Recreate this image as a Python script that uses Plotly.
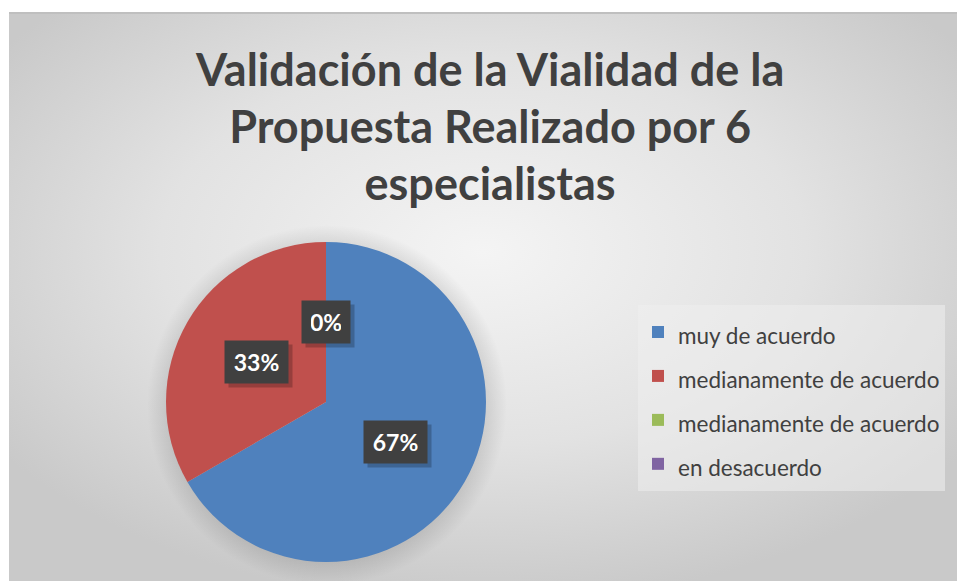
import base64
import math
import plotly.graph_objects as go

# Survey answers from the six specialists
categories = ["muy de acuerdo", "medianamente de acuerdo", "medianamente de acuerdo", "en desacuerdo"]
counts = [4, 2, 0, 0]
colors = ["#4F81BD", "#C0504D", "#9BBB59", "#8064A2"]
title_lines = ["Validación de la Vialidad de la", "Propuesta Realizado por 6", "especialistas"]

W, H = 957, 583
FONT = "Lato"

# pie geometry (pixels)
cx, cy, r = 326, 402, 160
dom_x = [(cx - r) / W, (cx + r) / W]
dom_y = [1 - (cy + r) / H, 1 - (cy - r) / H]

# chart-area radial gradient background with a soft halo under the pie
area = dict(x0=9, y0=13, x1=957, y1=581)
svg = (
    '<svg xmlns="http://www.w3.org/2000/svg" width="948" height="568" viewBox="0 0 948 568" preserveAspectRatio="none">'
    '<defs><radialGradient id="g" cx="50%" cy="42%" r="62%">'
    '<stop offset="0" stop-color="#f4f4f4"/><stop offset="0.55" stop-color="#e2e2e2"/>'
    '<stop offset="1" stop-color="#c9c9c9"/></radialGradient>'
    '<radialGradient id="s" cx="50%" cy="50%" r="50%">'
    '<stop offset="0.86" stop-color="#000" stop-opacity="0.12"/>'
    '<stop offset="1" stop-color="#000" stop-opacity="0"/></radialGradient></defs>'
    '<rect width="948" height="568" fill="url(#g)"/>'
    f'<circle cx="{cx - area["x0"] + 1}" cy="{cy - area["y0"] + 3}" r="{r + 20}" fill="url(#s)"/>'
    '</svg>'
)
bg_src = "data:image/svg+xml;base64," + base64.b64encode(svg.encode()).decode()

# legend: the big base font sets the row pitch, the span sets the visible size;
# the style suffix keeps the two identical category names as separate entries
legend_labels = [
    f"<span style='font-size:22.5px;z-index:{i}'>{c}</span>" for i, c in enumerate(categories)
]

fig = go.Figure(
    go.Pie(
        labels=legend_labels,
        values=counts,
        marker=dict(colors=colors, line=dict(width=0)),
        sort=False,
        direction="clockwise",
        rotation=0,
        textinfo="none",
        hoverinfo="label+percent",
        domain=dict(x=dom_x, y=dom_y),
    )
)

# data labels at half radius on each slice's mid angle, each on a dark box
# with a soft drop shadow box behind it
total = sum(counts)
annotations = []
cum = 0
for i, v in enumerate(counts[:3]):
    mid = (cum + v / 2) / total * 2 * math.pi
    cum += v
    lx = cx + 0.5 * r * math.sin(mid)
    ly = cy - 0.5 * r * math.cos(mid)
    pct = f"{round(100 * v / total)}%"
    box_w = 15 * len(pct)
    common = dict(
        x=lx / W, y=1 - ly / H, xref="paper", yref="paper",
        xanchor="center", yanchor="middle",
        showarrow=False, width=box_w, height=24, borderpad=9,
    )
    annotations.append(dict(common, text="&nbsp;", bgcolor="rgba(0,0,0,0.22)",
                            font=dict(family=FONT, size=23, color="rgba(0,0,0,0)"),
                            xshift=4, yshift=-4))
    annotations.append(dict(common, text=f"<b>{pct}</b>", bgcolor="#404040",
                            font=dict(family=FONT, size=23, color="#ffffff")))

title_html = "<br>".join(f"<span style='font-size:45px'><b>{t}</b></span>" for t in title_lines)
annotations.append(dict(
    text=title_html, x=489 / W, y=1 - 40 / H, xref="paper", yref="paper",
    xanchor="center", yanchor="top", showarrow=False, align="center",
    font=dict(family=FONT, size=44, color="#404040"),
))

fig.update_layout(
    width=W, height=H,
    margin=dict(l=0, r=0, t=0, b=0),
    paper_bgcolor="#ffffff",
    plot_bgcolor="rgba(0,0,0,0)",
    showlegend=True,
    legend=dict(
        x=638 / W, y=1 - 305 / H, xanchor="left", yanchor="top",
        bgcolor="rgba(238,238,238,0.55)",
        font=dict(family=FONT, size=31.5, color="#404040"),
        traceorder="normal",
    ),
    images=[dict(
        source=bg_src, xref="paper", yref="paper",
        x=area["x0"] / W, y=1 - area["y0"] / H,
        sizex=(area["x1"] - area["x0"]) / W, sizey=(area["y1"] - area["y0"]) / H,
        xanchor="left", yanchor="top", sizing="stretch", layer="below",
    )],
    shapes=[dict(
        type="line", xref="paper", yref="paper",
        x0=area["x0"] / W, x1=1, y0=1 - area["y0"] / H, y1=1 - area["y0"] / H,
        line=dict(color="#bfbfbf", width=2),
    )],
    annotations=annotations,
)

fig.write_html("out.html")
